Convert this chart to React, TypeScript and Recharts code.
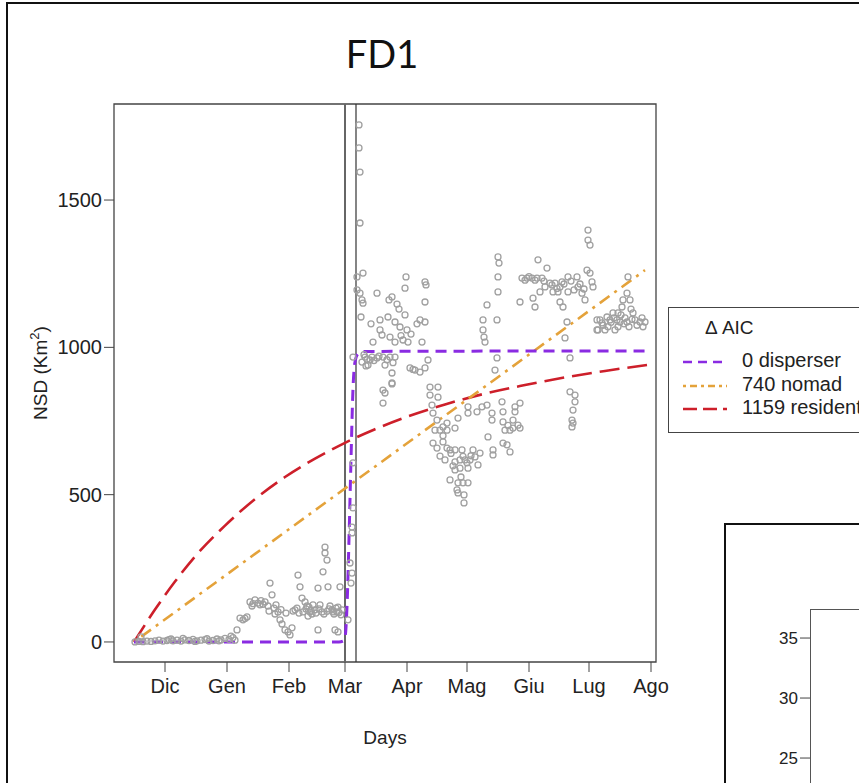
import { ComposedChart, Line, Scatter, XAxis, YAxis, ReferenceLine, ReferenceArea, Label } from "recharts"

// x = days from 1 Dec, y = NSD (km2)
const monthDays = [0, 31, 62, 90, 121, 151, 182, 212, 243]
const monthLabels = ["Dic", "Gen", "Feb", "Mar", "Apr", "Mag", "Giu", "Lug", "Ago"]
const nsdTicks = [0, 500, 1000, 1500]
const boundaryDays = [90, 95.5]

const winterFixes = [
  [-15, 0], [-13, 2], [-11, 1], [-9, 3], [-7, 2], [-5, 4], [-3, 6], [-1, 3], [1, 5], [2, 8],
  [4, 4], [6, 6], [8, 3], [10, 7], [12, 5], [14, 9], [16, 4], [18, 6], [20, 8], [22, 3],
  [24, 5], [26, 10], [28, 7], [30, 12], [32, 9], [33, 20], [34, 15], [35, 6], [-12, 17],
  [3, 10], [9, 12], [15, 2], [21, 11], [27, 4],
]

const preDispersalFixes = [
  [36, 41], [37.5, 81], [39, 75], [41, 85], [42.5, 136], [43.5, 122], [45, 143], [46.5, 132],
  [47.5, 126], [50, 136], [51.5, 122], [52.5, 200], [53.5, 160], [54.5, 115], [55.5, 126],
  [56.5, 102], [57.5, 75], [58.5, 61], [60, 41], [61.5, 34], [62.5, 24], [63.5, 48], [65, 109],
  [66.5, 227], [67.5, 187], [68.5, 149], [70, 136], [71, 122], [72.5, 102], [73.5, 95], [75, 109],
  [76.5, 183], [77.5, 126], [79, 238], [80, 322], [80, 302], [81, 278], [81.5, 187], [82.5, 122],
  [83.5, 109], [85, 41], [86, 102], [86.5, 34], [87.5, 187], [88.5, 109], [76.5, 41], [69, 102],
  [74, 126], [78.5, 102], [84, 102], [85.5, 115],
  [40, 80], [44, 130], [48, 140], [49, 128], [52, 105], [55, 95], [58, 110], [60.5, 98],
  [64, 105], [66, 115], [67, 98], [70.5, 112], [72, 118], [73, 108], [75.5, 98], [77, 112],
  [79.5, 95], [81, 104], [82, 112], [84.5, 95], [86.5, 118], [87, 100], [88, 92], [71.5, 88],
]

const transitionFixes = [
  [91.5, 75], [93, 200], [93.5, 234], [93.5, 370], [94, 608], [94, 455], [93.5, 390], [92.5, 268],
  [94, 967],
]

const springFixes = [
  [97, 1755], [97, 1677], [97.5, 1595], [97.5, 1422], [99, 1252], [96, 1239], [96, 1195],
  [97.5, 1184], [98.5, 1161], [99, 1150], [98, 1103], [106, 1184], [113.5, 1171], [112, 1161],
  [120.5, 1239], [120, 1201], [116, 1147], [117, 1130], [107.5, 1093], [111.5, 1103], [115, 1086],
  [117.5, 1069], [121, 1059], [127.5, 1093], [130, 1086], [130, 1222], [130.5, 1212], [130, 1154],
  [107.5, 1059], [108.5, 1042], [104, 1018], [112.5, 1035], [115, 1018], [119, 1025], [121.5, 1018],
  [128.5, 1018], [100, 967], [103.5, 967], [101.5, 940], [106, 964], [110, 940], [109, 967],
  [112.5, 967], [115, 967], [113.5, 913], [113.5, 879], [109, 855], [110, 845], [122.5, 930],
  [125, 923], [127.5, 916], [130, 930], [131.5, 957], [132.5, 865], [136.5, 865], [132.5, 838],
  [136.5, 831], [109, 811], [113.5, 876], [98.5, 950], [100.5, 937], [102.5, 957],
  [99.5, 975], [101, 960], [104.5, 955], [107, 970], [111, 958], [114, 948], [118, 1040],
  [123, 1045], [126, 1080], [124, 925], [120, 1110], [103, 1080],
]

const mayFixes = [
  [133.5, 804], [134, 777], [136, 753], [135, 719], [137.5, 719], [139, 730], [141, 719], [145, 726],
  [134, 675], [136, 658], [139, 679], [141, 658], [142.5, 652], [145, 652], [137.5, 631], [140, 618],
  [145, 611], [147.5, 618], [150, 618], [152.5, 618], [155, 628], [157.5, 641], [154, 652],
  [148.5, 652], [145, 584], [147.5, 590], [151.5, 590], [156.5, 601], [142.5, 550], [146.5, 540],
  [149, 540], [151.5, 540], [146, 516], [146.5, 506], [149.5, 499], [149.5, 472], [146.5, 760],
  [141, 743], [151.5, 798], [151.5, 777], [156, 781], [158.5, 798], [161, 804], [163.5, 777],
  [163.5, 753], [161.5, 696], [164, 652], [164, 635], [168.5, 815], [169, 781], [169, 747],
  [170, 719], [172.5, 719], [174, 726], [174, 753], [175, 781], [175, 798], [177.5, 811],
  [176.5, 736], [177.5, 726], [169, 675], [171, 669], [172.5, 645], [202.5, 849], [205, 838],
  [205, 815], [204, 787], [203.5, 753], [204, 743], [203.5, 730],
  [159, 1093], [159, 1059], [159.5, 1035], [160, 1018], [161, 1144], [166, 1093], [166.5, 1307],
  [167, 1286], [166.5, 1239], [166.5, 1188], [166, 964], [165, 923],
  [143, 640], [149, 630], [151, 608], [153, 632], [144, 598], [148, 560], [139, 700], [171.5, 735],
]

const summerFixes = [
  [177.5, 1154], [178.5, 1235], [181, 1235], [183.5, 1235], [186, 1235], [188.5, 1235],
  [186.5, 1297], [191, 1269], [184, 1167], [185, 1137], [187.5, 1188], [190, 1205], [192.5, 1218],
  [195, 1218], [197.5, 1205], [194, 1188], [196.5, 1188], [198.5, 1222], [201.5, 1239],
  [201.5, 1188], [197.5, 1154], [199, 1137], [201, 1086], [200, 1032], [202.5, 964], [206, 1239],
  [206.5, 1205], [208.5, 1184], [210, 1161], [211, 1262], [212.5, 1252], [213.5, 1222], [214, 1205],
  [211.5, 1398], [211.5, 1364], [212.5, 1347], [216, 1093], [216.5, 1059], [217.5, 1093],
  [220, 1059], [222.5, 1093], [225, 1059], [226.5, 1117], [228.5, 1137], [229, 1161], [231, 1184],
  [231.5, 1239], [232.5, 1161], [234, 1117], [235, 1093], [237.5, 1086], [240, 1086], [226, 1093],
  [227.5, 1086], [231, 1086], [221, 1103], [224, 1117], [218.5, 1083], [216, 1059],
  [180, 1228], [182, 1240], [185, 1228], [189.5, 1225], [193.5, 1212], [196, 1200], [199.5, 1215],
  [203, 1225], [204.5, 1195], [207.5, 1215], [209.5, 1198], [219, 1075], [221.5, 1070],
  [223, 1085], [224.5, 1100], [226.5, 1070], [229.5, 1080], [230, 1100], [232, 1070], [233.5, 1095],
  [236, 1075], [238.5, 1100], [239, 1070], [233, 1130], [228, 1110],
]

const disperserFit = [
  [-15.5, 0], [87, 0], [89, 3], [90, 15], [91, 120], [92, 350], [93, 620], [94, 860], [95, 950],
  [96.5, 978], [99, 986], [241, 988],
]
const nomadFit = [[-15.5, 0], [240, 1262]]
const residentFit = [
  [-15.5, 0], [-5, 110], [5, 205], [15, 290], [30, 395], [45, 485], [60, 560], [75, 622], [90, 676],
  [105, 722], [120, 762], [140, 806], [160, 843], [180, 872], [200, 898], [220, 920], [241, 940],
]

const legendItems = [
  { label: "0 disperser", color: "#8a2be2", dash: "9 6" },
  { label: "740 nomad", color: "#e4a23a", dash: "3 4 7 4" },
  { label: "1159 resident", color: "#cd1f2a", dash: "14 6" },
]

// second (cut-off) panel
const panel2Ticks = [25, 30, 35]

const toPoints = (arr: number[][]) => arr.map(([d, v]) => ({ d, v }))
const allFixes = toPoints([
  ...winterFixes, ...preDispersalFixes, ...transitionFixes, ...springFixes, ...mayFixes, ...summerFixes,
])

const font = "'Liberation Sans', Arial, sans-serif"
const tickStyle = { fill: "#222", fontSize: 20, fontFamily: font }

const ring = (props: any) => (
  <circle cx={props.cx} cy={props.cy} r={3} fill="none" stroke="#a0a0a0" strokeWidth={1.3} />
)

const yTitle = (props: any) => {
  const vb = props.viewBox
  return (
    <text transform={`translate(${vb.x - 7}, 373) rotate(-90)`} textAnchor="middle" fill="#222" fontSize={19} fontFamily={font}>
      NSD (Km<tspan dy={-8} fontSize={13}>2</tspan><tspan dy={8}>)</tspan>
    </text>
  )
}

const xTitle = (props: any) => {
  const vb = props.viewBox
  return (
    <text x={vb.x + vb.width / 2} y={744} textAnchor="middle" fill="#222" fontSize={19} fontFamily={font}>
      Days
    </text>
  )
}

export default function App() {
  return (
    <div style={{ position: "absolute", left: 0, top: 0, width: 859, height: 783, overflow: "hidden", background: "#fff", fontFamily: font }}>
      <div style={{ position: "absolute", left: 6, top: 2, width: 900, height: 900, border: "2px solid #111" }} />
      <div style={{ position: "absolute", left: 0, top: 30, width: 764, textAlign: "center", fontFamily: "Lato, 'Open Sans', sans-serif", fontSize: 38, color: "#111" }}>
        FD1
      </div>

      <div style={{ position: "absolute", left: 0, top: 0 }}>
        <ComposedChart width={700} height={783} margin={{ top: 104, right: 44, bottom: 61, left: 54 }}>
          <XAxis
            type="number"
            dataKey="d"
            domain={[-25.5, 245.5]}
            allowDataOverflow
            ticks={monthDays}
            interval={0}
            tickFormatter={(d: number) => monthLabels[monthDays.indexOf(d)]}
            height={60}
            tickSize={10}
            tickMargin={7}
            axisLine={false}
            tickLine={{ stroke: "#444" }}
            tick={tickStyle}
          >
            <Label content={xTitle} />
          </XAxis>
          <YAxis
            type="number"
            dataKey="v"
            domain={[-68, 1826]}
            allowDataOverflow
            ticks={nsdTicks}
            interval={0}
            width={60}
            tickSize={10}
            tickMargin={2}
            axisLine={false}
            tickLine={{ stroke: "#444" }}
            tick={tickStyle}
          >
            <Label content={yTitle} />
          </YAxis>
          <ReferenceArea x1={-25.5} x2={245.5} y1={-68} y2={1826} fill="none" stroke="#444" strokeWidth={1.3} ifOverflow="visible" />
          <Scatter data={allFixes} dataKey="v" shape={ring} isAnimationActive={false} />
          <ReferenceLine x={boundaryDays[0]} stroke="#666" strokeWidth={2} />
          <ReferenceLine x={boundaryDays[1]} stroke="#333" strokeWidth={1.2} />
          <Line data={toPoints(residentFit)} dataKey="v" type="monotone" stroke="#cd1f2a" strokeWidth={2.6} strokeDasharray="20 8" dot={false} isAnimationActive={false} />
          <Line data={toPoints(nomadFit)} dataKey="v" type="linear" stroke="#e4a23a" strokeWidth={2.6} strokeDasharray="3 6 12 6" dot={false} isAnimationActive={false} />
          <Line data={toPoints(disperserFit)} dataKey="v" type="monotone" stroke="#8a2be2" strokeWidth={3} strokeDasharray="11 7" dot={false} isAnimationActive={false} />
        </ComposedChart>
      </div>

      <div style={{ position: "absolute", left: 668, top: 307, width: 250, height: 124, border: "1px solid #444", background: "#fff" }}>
        <div style={{ position: "absolute", left: 36, top: 9, fontSize: 19, color: "#222" }}>Δ AIC</div>
        {legendItems.map((it, i) => (
          <div key={it.label} style={{ position: "absolute", left: 0, top: 41 + i * 23.5, height: 22 }}>
            <svg width={60} height={24} style={{ position: "absolute", left: 10, top: 0 }}>
              <line x1={4} y1={13} x2={48} y2={13} stroke={it.color} strokeWidth={2.6} strokeDasharray={it.dash} />
            </svg>
            <div style={{ position: "absolute", left: 73, top: 0, fontSize: 20, color: "#222", whiteSpace: "nowrap" }}>{it.label}</div>
          </div>
        ))}
      </div>

      <div style={{ position: "absolute", left: 724, top: 523, width: 300, height: 400, border: "2px solid #111" }} />
      <div style={{ position: "absolute", left: 810, top: 609, width: 200, height: 300, border: "1px solid #555" }} />
      <div style={{ position: "absolute", left: 740, top: 600 }}>
        <ComposedChart width={200} height={300} data={panel2Ticks.map((v) => ({ v }))} margin={{ top: 9, right: 0, bottom: 0, left: 0 }}>
          <XAxis hide />
          <YAxis
            type="number"
            dataKey="v"
            domain={[13.17, 37.42]}
            allowDataOverflow
            ticks={panel2Ticks}
            width={70}
            tickSize={10}
            tickMargin={2}
            axisLine={false}
            tickLine={{ stroke: "#444" }}
            tick={{ fill: "#222", fontSize: 17, fontFamily: font }}
          />
        </ComposedChart>
      </div>
    </div>
  )
}
